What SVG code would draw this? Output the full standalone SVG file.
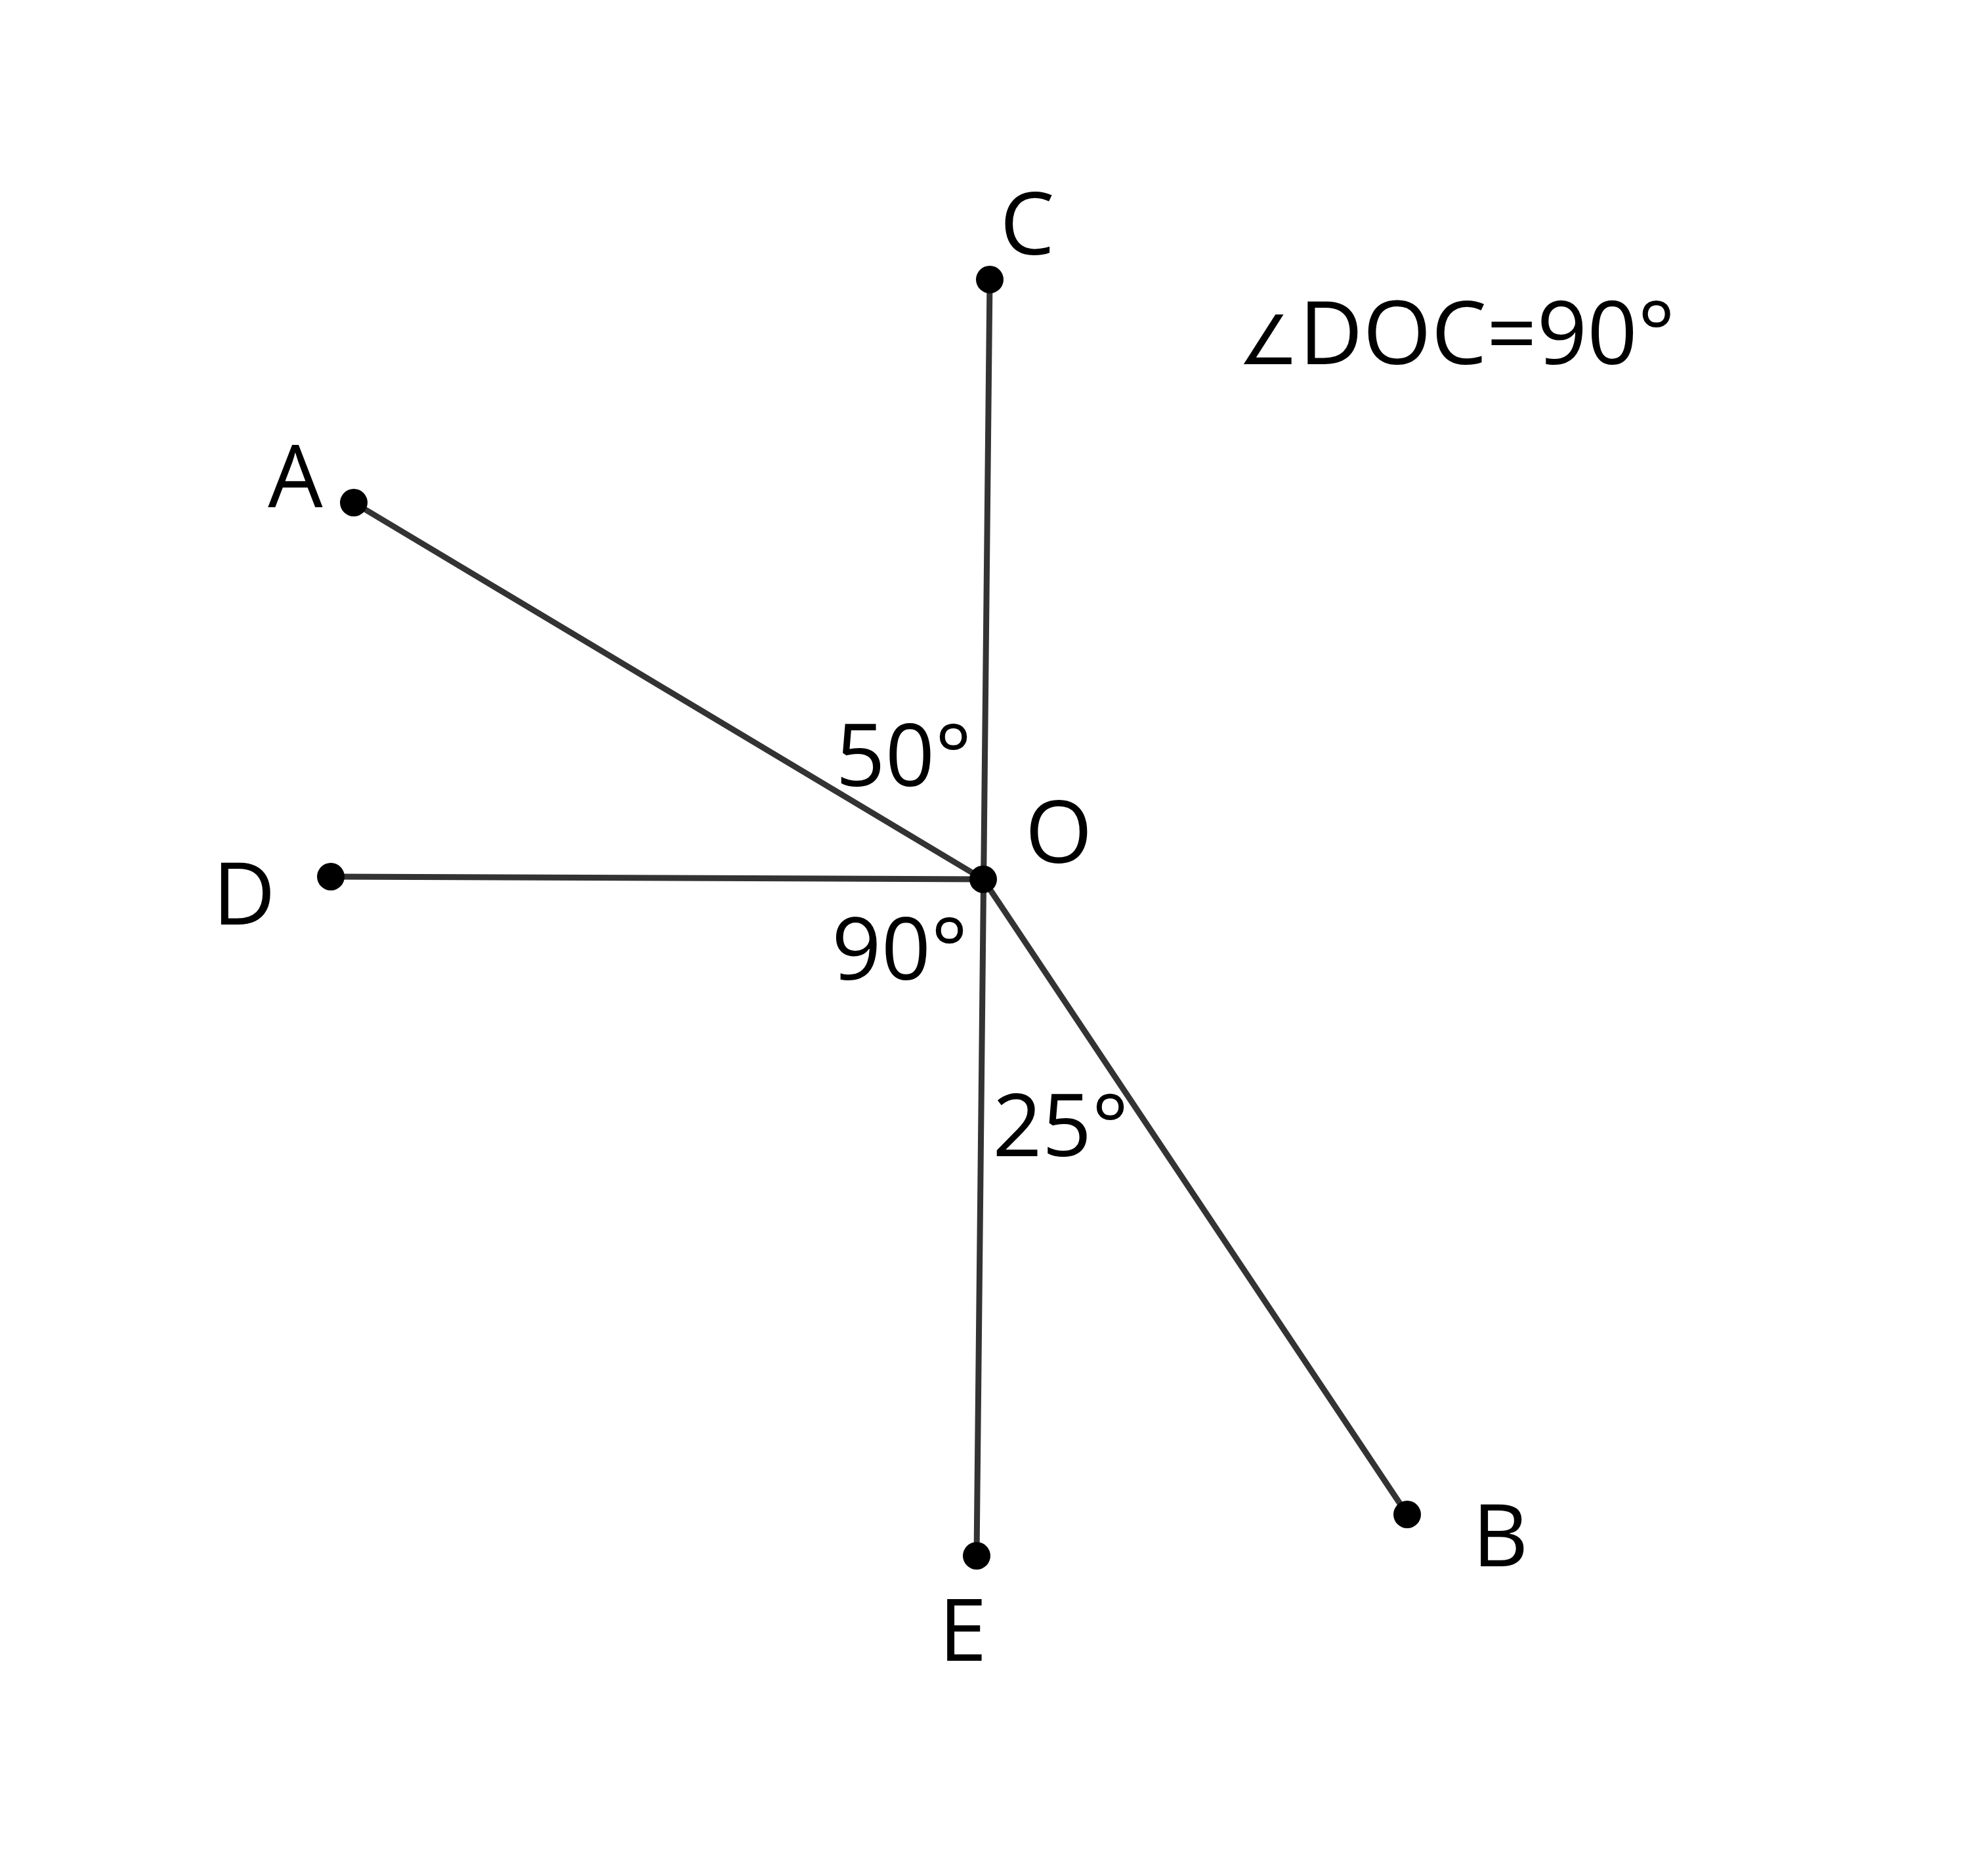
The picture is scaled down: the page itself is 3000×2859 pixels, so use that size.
<svg xmlns="http://www.w3.org/2000/svg" width="3000" height="2859" viewBox="0 0 3000 2859">
<style>
.ln{stroke:#333;stroke-width:9;fill:none;stroke-linecap:round}
.pt{fill:#000}
.lb{font-family:"Open Sans","Noto Sans","DejaVu Sans",sans-serif;font-size:132px;fill:#000;text-anchor:middle}
.cap{font-family:"Open Sans","Noto Sans","DejaVu Sans",sans-serif;font-size:134px;fill:#000}
</style>
<rect width="3000" height="2859" fill="#fff"/>
<g id="connectors">
<line class="ln" x1="1508" y1="426" x2="1488" y2="2371"/>
<line class="ln" x1="539" y1="766" x2="1498" y2="1340"/>
<line class="ln" x1="504" y1="1336" x2="1498" y2="1340"/>
<line class="ln" x1="1498" y1="1340" x2="2144" y2="2308"/>
</g>
<g id="C"><circle class="pt" cx="1508" cy="426" r="21"/><text class="lb" x="1565" y="388">C</text></g>
<g id="A"><circle class="pt" cx="539" cy="766" r="21"/><text class="lb" x="450" y="773">A</text></g>
<g id="D"><circle class="pt" cx="504" cy="1336" r="21"/><text class="lb" x="372" y="1409">D</text></g>
<g id="O"><circle class="pt" cx="1498" cy="1340" r="21"/><text class="lb" x="1613" y="1315">O</text></g>
<g id="E"><circle class="pt" cx="1488" cy="2371" r="21"/><text class="lb" x="1467" y="2531">E</text></g>
<g id="B"><circle class="pt" cx="2144" cy="2308" r="21"/><text class="lb" x="2286" y="2387">B</text></g>
<g id="angles">
<text class="lb" x="1377" y="1198">50°</text>
<text class="lb" x="1371" y="1493">90°</text>
<text class="lb" x="1616" y="1762">25°</text>
</g>
<g id="caption"><text class="cap" x="1886" y="555"><tspan font-size="104">∠</tspan>DOC=90°</text></g>
</svg>
